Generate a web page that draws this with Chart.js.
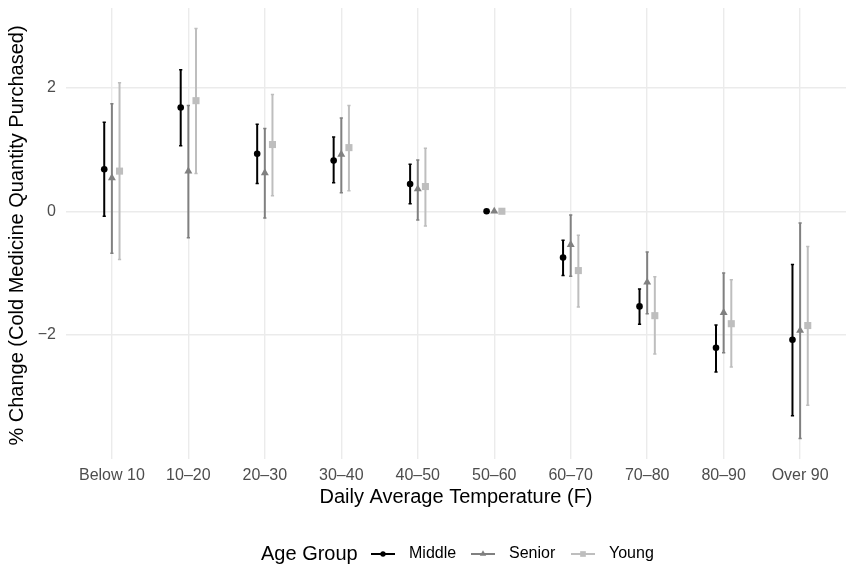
<!DOCTYPE html>
<html>
<head>
<meta charset="utf-8">
<script src="https://cdn.jsdelivr.net/npm/chart.js@4.4.1/dist/chart.umd.min.js"></script>
<style>
  body { margin: 0; background: #fff; }
  #wrap { width: 846px; height: 567px; }
</style>
</head>
<body>
<div id="wrap"><canvas id="cv" width="846" height="567"></canvas></div>
<script>
"use strict";

const categories = ['Below 10', '10–20', '20–30', '30–40', '40–50', '50–60', '60–70', '70–80', '80–90', 'Over 90'];

const middleEst = [0.68, 1.68, 0.93, 0.82, 0.44, 0, -0.75, -1.54, -2.21, -2.08];
const middleLo  = [-0.08, 1.06, 0.45, 0.46, 0.12, 0, -1.04, -1.83, -2.60, -3.31];
const middleHi  = [1.44, 2.29, 1.41, 1.20, 0.76, 0, -0.47, -1.26, -1.84, -0.86];

const seniorEst = [0.54, 0.65, 0.62, 0.92, 0.36, 0, -0.54, -1.15, -1.64, -1.93];
const seniorLo  = [-0.68, -0.43, -0.11, 0.30, -0.14, 0, -1.05, -1.66, -2.29, -3.68];
const seniorHi  = [1.74, 1.71, 1.34, 1.51, 0.83, 0, -0.06, -0.66, -1.00, -0.19];

const youngEst = [0.65, 1.79, 1.08, 1.03, 0.40, 0, -0.96, -1.69, -1.82, -1.85];
const youngLo  = [-0.78, 0.61, 0.25, 0.33, -0.24, 0, -1.55, -2.31, -2.52, -3.14];
const youngHi  = [2.08, 2.96, 1.89, 1.71, 1.02, 0, -0.39, -1.06, -1.11, -0.57];

const yTicks = [-2, 0, 2];

const FONT = "'Liberation Sans', Arial, sans-serif";

const groups = [
    { label: 'Middle', est: middleEst, lo: middleLo, hi: middleHi, color: '#000000', shape: 'circle', radius: 3.3, dodge: -0.1 },
    { label: 'Senior', est: seniorEst, lo: seniorLo, hi: seniorHi, color: '#808080', shape: 'triangle', radius: 4.6, dodge: 0 },
    { label: 'Young',  est: youngEst,  lo: youngLo,  hi: youngHi,  color: '#bebebe', shape: 'rect', radius: 5, dodge: 0.1 }
];

// no extra room for labels that stick out, the panel fills its box
function noPadding(scale) {
    scale.paddingTop = 0;
    scale.paddingBottom = 0;
    scale.paddingLeft = 0;
    scale.paddingRight = 0;
}

// vertical error bars, drawn under the points
const errorBars = {
    id: 'errorBars',
    beforeDatasetsDraw(chart) {
        const ctx = chart.ctx;
        const xs = chart.scales.x, ys = chart.scales.y;
        ctx.save();
        groups.forEach(g => {
            ctx.strokeStyle = g.color;
            g.lo.forEach((lo, i) => {
                const hi = g.hi[i];
                if (lo === hi) return;
                const px = xs.getPixelForValue(i + g.dodge);
                const y1 = ys.getPixelForValue(lo), y2 = ys.getPixelForValue(hi);
                ctx.lineWidth = 2;
                ctx.beginPath();
                ctx.moveTo(px, y1);
                ctx.lineTo(px, y2);
                ctx.stroke();
                ctx.lineWidth = 1.5;
                ctx.beginPath();
                ctx.moveTo(px - 1.6, y1); ctx.lineTo(px + 1.6, y1);
                ctx.moveTo(px - 1.6, y2); ctx.lineTo(px + 1.6, y2);
                ctx.stroke();
            });
        });
        ctx.restore();
    }
};

// axis titles and the ggplot-like legend at the bottom
const decorations = {
    id: 'decorations',
    afterDraw(chart) {
        const ctx = chart.ctx;
        const area = chart.chartArea;
        ctx.save();
        ctx.fillStyle = '#000';
        ctx.font = '20px ' + FONT;
        ctx.textAlign = 'center';
        ctx.textBaseline = 'middle';
        ctx.fillText('Daily Average Temperature (F)', (area.left + area.right) / 2, 497);

        ctx.save();
        ctx.translate(17, (area.top + area.bottom) / 2 + 2);
        ctx.rotate(-Math.PI / 2);
        ctx.fillText('% Change (Cold Medicine Quantity Purchased)', 0, 0);
        ctx.restore();

        // legend
        const ly = 554;
        ctx.textAlign = 'left';
        ctx.font = '20px ' + FONT;
        ctx.fillText('Age Group', 261, ly);
        const keyX = [371, 471, 571];
        ctx.font = '16px ' + FONT;
        groups.forEach((g, k) => {
            const x0 = keyX[k];
            ctx.strokeStyle = g.color;
            ctx.lineWidth = 2;
            ctx.beginPath();
            ctx.moveTo(x0, ly);
            ctx.lineTo(x0 + 24, ly);
            ctx.stroke();
            ctx.fillStyle = g.color;
            Chart.helpers.drawPoint(ctx, { pointStyle: g.shape, radius: g.radius * 0.8, rotation: 0, borderWidth: 0 }, x0 + 12, ly);
            ctx.fillStyle = '#000';
            ctx.fillText(g.label, x0 + 38, ly);
        });
        ctx.restore();
    }
};

const datasets = groups.map(g => ({
    label: g.label,
    data: g.est.map((v, i) => ({ x: i + g.dodge, y: v })),
    pointStyle: g.shape,
    pointRadius: g.radius,
    pointBackgroundColor: g.color,
    pointBorderWidth: 0,
    showLine: false
}));

new Chart(document.getElementById('cv'), {
    type: 'scatter',
    data: { datasets: datasets },
    options: {
        responsive: false,
        animation: false,
        events: [],
        layout: { autoPadding: false, padding: { top: 8, left: 0, right: 0, bottom: 0 } },
        plugins: {
            legend: { display: false },
            tooltip: { enabled: false }
        },
        scales: {
            x: {
                type: 'linear',
                min: -0.6,
                max: 9.6,
                afterBuildTicks: function(scale) {
                    scale.ticks = categories.map((c, i) => ({ value: i }));
                },
                afterFit: function(scale) {
                    scale.height = 108;
                    noPadding(scale);
                },
                border: { display: false },
                grid: { color: '#ebebeb', lineWidth: 1.4, drawTicks: false },
                ticks: {
                    autoSkip: false,
                    maxRotation: 0,
                    padding: 7,
                    color: '#4d4d4d',
                    font: { family: FONT, size: 16 },
                    callback: function(value) { return categories[value]; }
                }
            },
            y: {
                min: -4.01,
                max: 3.29,
                afterBuildTicks: function(scale) {
                    scale.ticks = yTicks.map(v => ({ value: v }));
                },
                afterFit: function(scale) {
                    scale.width = 66;
                    noPadding(scale);
                },
                border: { display: false },
                grid: { color: '#ebebeb', lineWidth: 1.4, drawTicks: false },
                ticks: {
                    padding: 10,
                    color: '#4d4d4d',
                    font: { family: FONT, size: 16 },
                    callback: function(value) {
                        return value < 0 ? '\u2212' + Math.abs(value) : String(value);
                    }
                }
            }
        }
    },
    plugins: [errorBars, decorations]
});
</script>
</body>
</html>
